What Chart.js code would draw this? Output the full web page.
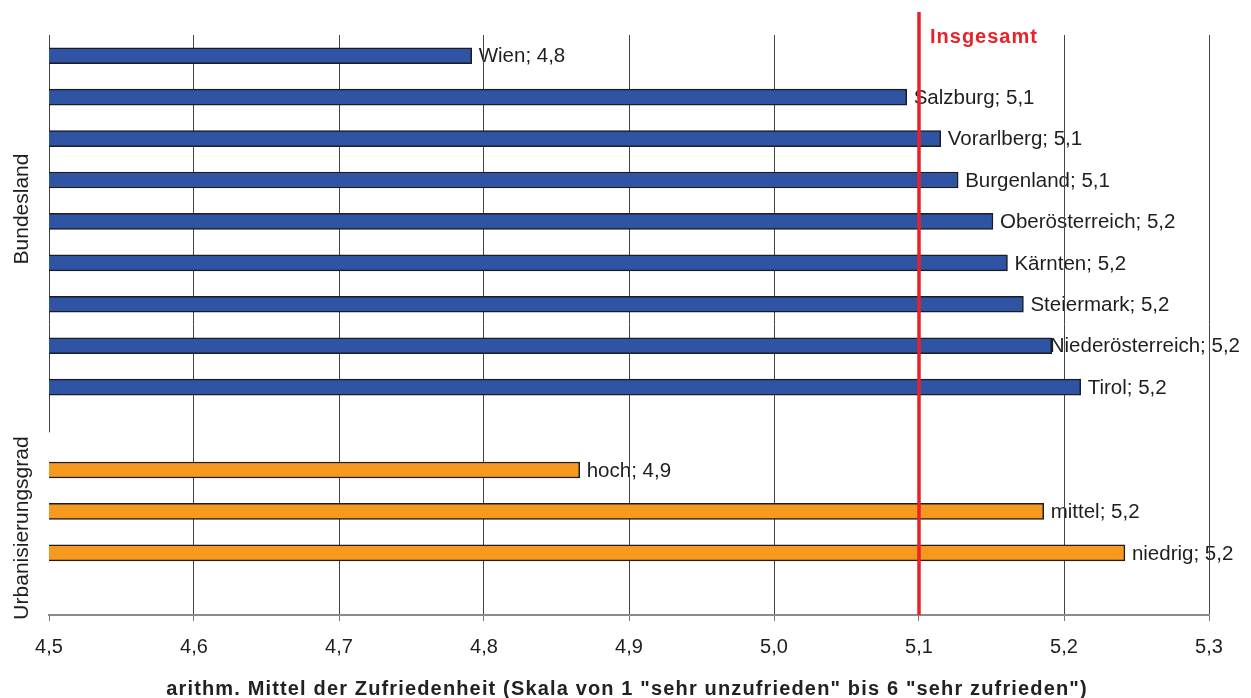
<!DOCTYPE html>
<html lang="de">
<head>
<meta charset="utf-8">
<title>Zufriedenheit nach Bundesland und Urbanisierungsgrad</title>
<script src="https://cdn.jsdelivr.net/npm/chart.js@4/dist/chart.umd.min.js"></script>
<style>
  html, body { margin: 0; padding: 0; background: #ffffff; }
  #wrap { width: 1251px; height: 698px; position: relative; }
</style>
</head>
<body>
<div id="wrap"><canvas id="chart"></canvas></div>
<script>
// Mittelwerte der Zufriedenheit je Bundesland
const bundeslaender = ['Wien', 'Salzburg', 'Vorarlberg', 'Burgenland', 'Oberösterreich',
  'Kärnten', 'Steiermark', 'Niederösterreich', 'Tirol'];
const bundeslandWerte = [4.7915, 5.0915, 5.115, 5.127, 5.151, 5.161, 5.172, 5.1915, 5.2115];

// Mittelwerte je Urbanisierungsgrad
const urbanisierung = ['hoch', 'mittel', 'niedrig'];
const urbanisierungWerte = [4.866, 5.186, 5.242];

// Gesamtmittelwert (Referenzlinie)
const insgesamt = 5.1;

// Achsenbereich
const xMin = 4.5, xMax = 5.3, xStep = 0.1;

const gruppenTitel = ['Bundesland', 'Urbanisierungsgrad'];
const achsenTitel = 'arithm. Mittel der Zufriedenheit (Skala von 1 "sehr unzufrieden" bis 6 "sehr zufrieden")';

// Kategorien mit je einer Leerzeile nach jeder Gruppe
const kategorien = [...bundeslaender, '', ...urbanisierung, ''];
const leer = n => Array(n).fill(null);
const datenBundesland = [...bundeslandWerte, ...leer(urbanisierung.length + 2)];
const datenUrban = [...leer(bundeslaender.length + 1), ...urbanisierungWerte, null];

const FONT = '"Liberation Sans", Arial, Helvetica, sans-serif';
const komma = v => v.toFixed(1).replace('.', ',');

// Wertbeschriftungen rechts neben den Balken (unter dem Gitter gezeichnet)
const wertLabels = {
  id: 'wertLabels',
  beforeDraw(chart) {
    const ctx = chart.ctx;
    ctx.save();
    ctx.font = '20.5px ' + FONT;
    ctx.fillStyle = '#1e1e1e';
    ctx.textBaseline = 'middle';
    ctx.textAlign = 'left';
    chart.data.datasets.forEach((ds, di) => {
      const meta = chart.getDatasetMeta(di);
      ds.data.forEach((v, i) => {
        if (v === null) return;
        const bar = meta.data[i];
        const text = chart.data.labels[i] + '; ' + komma(v);
        const w = ctx.measureText(text).width;
        const x = Math.min(bar.x + 7, chart.width - 11 - w);
        ctx.fillText(text, x, bar.y + 1);
      });
    });
    ctx.restore();
  },
  beforeDatasetsDraw(chart) {
    const ctx = chart.ctx;
    const y = chart.scales.y;
    const area = chart.chartArea;
    ctx.save();
    ctx.font = '21px ' + FONT;
    const pos = [y.getPixelForValue(3.7), y.getPixelForValue(11.4)];
    gruppenTitel.forEach((t, k) => {
      const w = ctx.measureText(t).width;
      if (k === 1) {
        // weißer Hintergrund des Gruppentitels
        ctx.fillStyle = '#ffffff';
        ctx.fillRect(0, pos[k] - w / 2 - 4, area.left + 1.5, area.bottom - 1 - (pos[k] - w / 2 - 4));
      }
      ctx.save();
      ctx.translate(21, pos[k]);
      ctx.rotate(-Math.PI / 2);
      ctx.fillStyle = '#1e1e1e';
      ctx.textAlign = 'center';
      ctx.textBaseline = 'middle';
      ctx.fillText(t, 0, 1);
      ctx.restore();
    });
    ctx.restore();
  },
  afterDraw(chart) {
    const ctx = chart.ctx;
    const xs = chart.scales.x;
    const area = chart.chartArea;
    const xp = xs.getPixelForValue(insgesamt);
    ctx.save();
    // Referenzlinie "Insgesamt"
    ctx.strokeStyle = '#e8212a';
    ctx.lineWidth = 3.5;
    ctx.beginPath();
    ctx.moveTo(xp, area.top - 23);
    ctx.lineTo(xp, area.bottom);
    ctx.stroke();
    ctx.fillStyle = '#e8212a';
    ctx.font = 'bold 20px ' + FONT;
    ctx.letterSpacing = '1px';
    ctx.textBaseline = 'alphabetic';
    ctx.textAlign = 'left';
    ctx.fillText('Insgesamt', xp + 11, area.top + 8);
    // Achsentitel
    ctx.fillStyle = '#222222';
    ctx.font = 'bold 20px ' + FONT;
    ctx.letterSpacing = '1.15px';
    ctx.textAlign = 'center';
    ctx.fillText(achsenTitel, (area.left + area.right) / 2 - 2, 695);
    ctx.restore();
  }
};

new Chart(document.getElementById('chart'), {
  type: 'bar',
  data: {
    labels: kategorien,
    datasets: [
      {
        label: gruppenTitel[0],
        data: datenBundesland,
        backgroundColor: '#2f54a3',
        borderColor: '#1c1c22',
        borderWidth: 1.5,
        borderSkipped: false,
        barThickness: 16,
        grouped: false
      },
      {
        label: gruppenTitel[1],
        data: datenUrban,
        backgroundColor: '#f7991f',
        borderColor: '#1c1c22',
        borderWidth: 1.5,
        borderSkipped: false,
        barThickness: 16,
        grouped: false
      }
    ]
  },
  options: {
    indexAxis: 'y',
    responsive: true,
    maintainAspectRatio: false,
    animation: false,
    layout: { padding: { top: 35, left: 49, right: 42, bottom: 0 } },
    plugins: {
      legend: { display: false },
      tooltip: { enabled: false }
    },
    scales: {
      x: {
        min: xMin,
        max: xMax,
        afterFit(scale) { scale.height = 83; },
        ticks: {
          stepSize: xStep,
          padding: 14,
          color: '#1e1e1e',
          font: { family: FONT, size: 20 },
          callback: v => komma(v)
        },
        grid: {
          color: '#444444',
          lineWidth: 1,
          tickLength: 6,
          tickColor: '#777777'
        },
        border: { display: true, color: '#8a8a8a', width: 2 }
      },
      y: {
        display: false
      }
    }
  },
  plugins: [wertLabels]
});
</script>
</body>
</html>
